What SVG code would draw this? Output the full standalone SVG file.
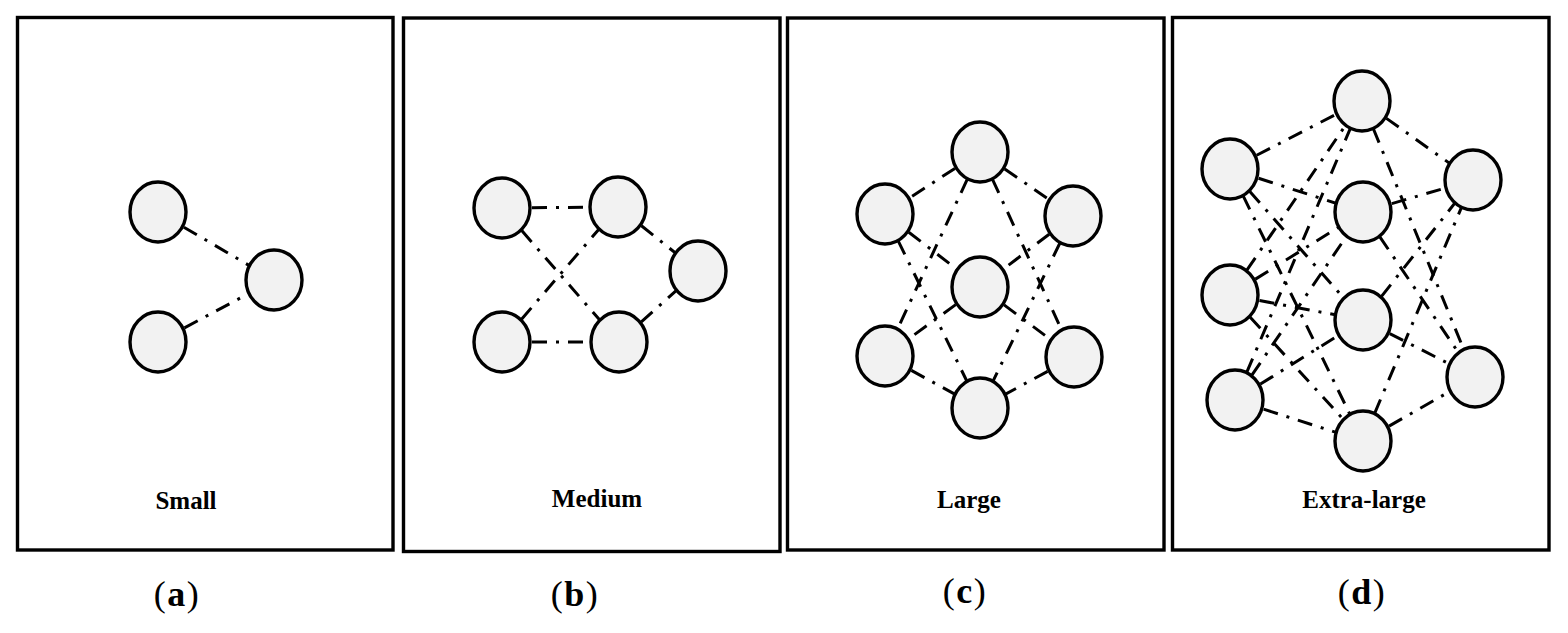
<svg xmlns="http://www.w3.org/2000/svg" width="1568" height="633" viewBox="0 0 1568 633">
<style>
.panel{fill:#fff;stroke:#000;stroke-width:3.4}
.node{fill:#f2f2f2;stroke:#000;stroke-width:3.4}
.edge{stroke:#000;stroke-width:3;fill:none;stroke-dasharray:15 9 3 9;stroke-dashoffset:6}
.lbl{font-family:"Liberation Serif","Times New Roman",serif;font-size:25px;font-weight:bold;text-anchor:middle;fill:#000}
.cap{font-family:"Liberation Serif","Times New Roman",serif;font-size:36px;letter-spacing:1.5px;text-anchor:middle;fill:#000}
.cap tspan{font-weight:bold}
</style>
<rect width="1568" height="633" fill="#fff"/>
<g id="panels">
<rect class="panel" x="17.5" y="17.5" width="375.5" height="532.5"/>
<rect class="panel" x="403.5" y="18" width="376.5" height="533.5"/>
<rect class="panel" x="787.5" y="18" width="376.5" height="532"/>
<rect class="panel" x="1172.5" y="17.5" width="376.5" height="532.5"/>
</g>
<g id="connectors">
<line class="edge" x1="158" y1="212" x2="274" y2="280"/>
<line class="edge" x1="158" y1="342" x2="274" y2="280"/>
<line class="edge" x1="502" y1="208" x2="618" y2="207"/>
<line class="edge" x1="502" y1="342" x2="619" y2="342"/>
<line class="edge" x1="502" y1="208" x2="619" y2="342"/>
<line class="edge" x1="502" y1="342" x2="618" y2="207"/>
<line class="edge" x1="618" y1="207" x2="698" y2="271"/>
<line class="edge" x1="619" y1="342" x2="698" y2="271"/>
<line class="edge" x1="980" y1="152" x2="885" y2="214"/>
<line class="edge" x1="980" y1="152" x2="1073" y2="216"/>
<line class="edge" x1="980" y1="152" x2="885" y2="356"/>
<line class="edge" x1="980" y1="152" x2="1074" y2="357"/>
<line class="edge" x1="885" y1="214" x2="980" y2="287"/>
<line class="edge" x1="885" y1="214" x2="980" y2="408"/>
<line class="edge" x1="1073" y1="216" x2="980" y2="287"/>
<line class="edge" x1="1073" y1="216" x2="980" y2="408"/>
<line class="edge" x1="980" y1="287" x2="885" y2="356"/>
<line class="edge" x1="980" y1="287" x2="1074" y2="357"/>
<line class="edge" x1="885" y1="356" x2="980" y2="408"/>
<line class="edge" x1="1074" y1="357" x2="980" y2="408"/>
<line class="edge" x1="1230" y1="169" x2="1362" y2="101"/>
<line class="edge" x1="1230" y1="169" x2="1363" y2="212"/>
<line class="edge" x1="1230" y1="169" x2="1363" y2="320"/>
<line class="edge" x1="1230" y1="169" x2="1363" y2="441"/>
<line class="edge" x1="1230" y1="295" x2="1362" y2="101"/>
<line class="edge" x1="1230" y1="295" x2="1363" y2="212"/>
<line class="edge" x1="1230" y1="295" x2="1363" y2="320"/>
<line class="edge" x1="1230" y1="295" x2="1363" y2="441"/>
<line class="edge" x1="1235" y1="400" x2="1362" y2="101"/>
<line class="edge" x1="1235" y1="400" x2="1363" y2="212"/>
<line class="edge" x1="1235" y1="400" x2="1363" y2="320"/>
<line class="edge" x1="1235" y1="400" x2="1363" y2="441"/>
<line class="edge" x1="1362" y1="101" x2="1473" y2="180"/>
<line class="edge" x1="1362" y1="101" x2="1475" y2="377"/>
<line class="edge" x1="1363" y1="212" x2="1473" y2="180"/>
<line class="edge" x1="1363" y1="212" x2="1475" y2="377"/>
<line class="edge" x1="1363" y1="320" x2="1473" y2="180"/>
<line class="edge" x1="1363" y1="320" x2="1475" y2="377"/>
<line class="edge" x1="1363" y1="441" x2="1473" y2="180"/>
<line class="edge" x1="1363" y1="441" x2="1475" y2="377"/>
</g>
<g id="a-n1"><ellipse class="node" cx="158" cy="212" rx="28" ry="30"/></g>
<g id="a-n2"><ellipse class="node" cx="158" cy="342" rx="28" ry="30"/></g>
<g id="a-n3"><ellipse class="node" cx="274" cy="280" rx="28" ry="30"/></g>
<g id="b-n1"><ellipse class="node" cx="502" cy="208" rx="28" ry="30"/></g>
<g id="b-n2"><ellipse class="node" cx="618" cy="207" rx="28" ry="30"/></g>
<g id="b-n3"><ellipse class="node" cx="698" cy="271" rx="28" ry="30"/></g>
<g id="b-n4"><ellipse class="node" cx="502" cy="342" rx="28" ry="30"/></g>
<g id="b-n5"><ellipse class="node" cx="619" cy="342" rx="28" ry="30"/></g>
<g id="c-n1"><ellipse class="node" cx="980" cy="152" rx="28" ry="30"/></g>
<g id="c-n2"><ellipse class="node" cx="885" cy="214" rx="28" ry="30"/></g>
<g id="c-n3"><ellipse class="node" cx="1073" cy="216" rx="28" ry="30"/></g>
<g id="c-n4"><ellipse class="node" cx="980" cy="287" rx="28" ry="30"/></g>
<g id="c-n5"><ellipse class="node" cx="885" cy="356" rx="28" ry="30"/></g>
<g id="c-n6"><ellipse class="node" cx="1074" cy="357" rx="28" ry="30"/></g>
<g id="c-n7"><ellipse class="node" cx="980" cy="408" rx="28" ry="30"/></g>
<g id="d-l1"><ellipse class="node" cx="1230" cy="169" rx="28" ry="30"/></g>
<g id="d-l2"><ellipse class="node" cx="1230" cy="295" rx="28" ry="30"/></g>
<g id="d-l3"><ellipse class="node" cx="1235" cy="400" rx="28" ry="30"/></g>
<g id="d-m1"><ellipse class="node" cx="1362" cy="101" rx="28" ry="30"/></g>
<g id="d-m2"><ellipse class="node" cx="1363" cy="212" rx="28" ry="30"/></g>
<g id="d-m3"><ellipse class="node" cx="1363" cy="320" rx="28" ry="30"/></g>
<g id="d-m4"><ellipse class="node" cx="1363" cy="441" rx="28" ry="30"/></g>
<g id="d-r1"><ellipse class="node" cx="1473" cy="180" rx="28" ry="30"/></g>
<g id="d-r2"><ellipse class="node" cx="1475" cy="377" rx="28" ry="30"/></g>
<g id="labels">
<text class="lbl" x="186" y="509">Small</text>
<text class="lbl" x="597" y="507">Medium</text>
<text class="lbl" x="969" y="508">Large</text>
<text class="lbl" x="1364" y="508">Extra-large</text>
<text class="cap" x="177" y="606">(<tspan>a</tspan>)</text>
<text class="cap" x="575" y="606">(<tspan>b</tspan>)</text>
<text class="cap" x="965" y="603">(<tspan>c</tspan>)</text>
<text class="cap" x="1362" y="604">(<tspan>d</tspan>)</text>
</g>
</svg>
